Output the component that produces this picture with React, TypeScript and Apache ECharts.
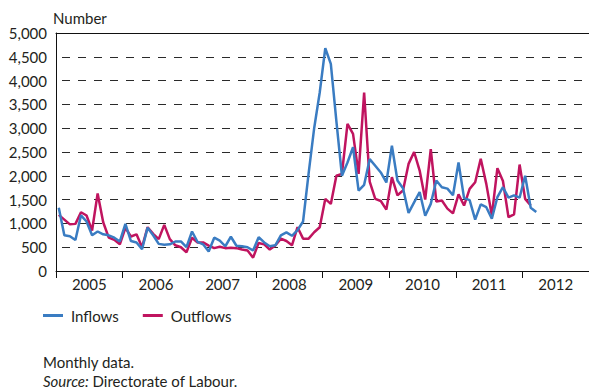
import React, { useEffect, useRef } from "react";
import * as echarts from "echarts";

const years = ["2005", "2006", "2007", "2008", "2009", "2010", "2011", "2012"];

// Monthly values, Jan 2005 onwards
const inflows = [
  1330, 750, 730, 650, 1170, 1040, 750, 830, 770, 750, 700, 620,
  990, 630, 600, 460, 910, 750, 570, 550, 560, 620, 620, 500,
  830, 610, 560, 410, 700, 640, 520, 720, 530, 520, 500, 430,
  710, 600, 520, 540, 750, 810, 740, 860, 1040, 2050, 3000, 3750,
  4680, 4350, 3150, 2000, 2280, 2600, 1690, 1810, 2350, 2210, 2070, 1860,
  2630, 1900, 1740, 1220, 1440, 1660, 1160, 1410, 1900, 1760, 1730, 1590,
  2280, 1530, 1490, 1080, 1400, 1340, 1100, 1550, 1760, 1540, 1590, 1540,
  2000, 1330, 1240,
];

const outflows = [
  1180, 1080, 980, 990, 1235, 1165, 850, 1630, 1025, 700, 655, 560,
  905, 725, 770, 500, 920, 780, 670, 970, 670, 540, 500, 395,
  700, 600, 600, 535, 480, 510, 480, 490, 480, 450, 430, 280,
  590, 560, 450, 535, 680, 630, 540, 920, 680, 680, 815, 920,
  1515, 1410, 2000, 2040, 3090, 2880, 2040, 3750, 1880, 1515, 1470, 1290,
  1970, 1590, 1690, 2250, 2500, 2110, 1500, 2560, 1460, 1480, 1310, 1210,
  1610, 1375, 1725, 1865, 2360, 1830, 1165, 2160, 1890, 1130, 1190, 2236,
  1515, 1375,
];

const yTicks = { min: 0, max: 5000, interval: 500 };

const FONT = "Lato";
const TEXT = "#231f20";
const BLUE = "#3a7cc2";
const RED = "#c0145f";

export default function App() {
  const ref = useRef<HTMLDivElement>(null);

  useEffect(() => {
    if (!ref.current) return;
    const chart = echarts.init(ref.current, null, { renderer: "svg" });
    const toPts = (arr: number[]) => arr.map((v, i) => [i + 0.5, v]);
    const ts = { fontFamily: FONT, fontSize: 15, fontWeight: "normal", color: TEXT, lineHeight: 16 };
    chart.setOption({
      animation: false,
      textStyle: { fontFamily: FONT, color: TEXT },
      title: [
        { text: "Number", left: 53, top: 10, padding: 0, textStyle: ts },
        { text: "Monthly data.", left: 43, top: 354, padding: 0, textStyle: ts },
        {
          text: "{i|Source:} Directorate of Labour.",
          left: 43,
          top: 373,
          padding: 0,
          textStyle: {
            ...ts,
            rich: {
              i: { fontFamily: FONT, fontSize: 15, fontStyle: "italic", color: TEXT, lineHeight: 16 },
            },
          },
        },
      ],
      legend: {
        left: 43,
        top: 308,
        padding: 0,
        icon: "rect",
        itemWidth: 20,
        itemHeight: 3,
        itemGap: 24,
        data: ["Inflows", "Outflows"],
        textStyle: { fontFamily: FONT, fontSize: 15, color: TEXT, padding: [0, 0, 0, 3] },
      },
      grid: { left: 56, top: 33, width: 534, height: 238, containLabel: false },
      xAxis: [
        {
          type: "category",
          data: years,
          boundaryGap: true,
          position: "bottom",
          axisLine: { show: true, lineStyle: { color: "#111", width: 1 } },
          axisTick: { show: true, length: 7, interval: 0, alignWithLabel: false, lineStyle: { color: "#111" } },
          axisLabel: { fontFamily: FONT, fontSize: 15, color: TEXT, margin: 5, interval: 0 },
          splitLine: { show: false },
        },
        {
          type: "value",
          min: 0,
          max: 96,
          show: false,
        },
        {
          type: "value",
          min: 0,
          max: 96,
          position: "top",
          axisLine: { show: true, lineStyle: { color: "#111", width: 1 } },
          axisTick: { show: false },
          axisLabel: { show: false },
          splitLine: { show: false },
        },
      ],
      yAxis: {
        type: "value",
        min: yTicks.min,
        max: yTicks.max,
        interval: yTicks.interval,
        axisLine: { show: true, lineStyle: { color: "#111", width: 1 } },
        axisTick: { show: false },
        axisLabel: {
          fontFamily: FONT,
          fontSize: 15,
          color: TEXT,
          margin: 9,
          formatter: (v: number) => v.toLocaleString("en-US"),
        },
        splitLine: {
          show: true,
          lineStyle: { color: "#2a2a2a", width: 1, type: [8, 8], dashOffset: 10 },
        },
      },
      series: [
        {
          name: "Outflows",
          type: "line",
          xAxisIndex: 1,
          data: toPts(outflows),
          showSymbol: false,
          symbol: "none",
          color: RED,
          lineStyle: { color: RED, width: 2.5 },
        },
        {
          name: "Inflows",
          type: "line",
          xAxisIndex: 1,
          data: toPts(inflows),
          showSymbol: false,
          symbol: "none",
          color: BLUE,
          lineStyle: { color: BLUE, width: 2.5 },
        },
      ],
    });
    return () => chart.dispose();
  }, []);

  return (
    <div
      ref={ref}
      style={{ position: "fixed", left: 0, top: 0, width: 589, height: 391, background: "#fff" }}
    />
  );
}
